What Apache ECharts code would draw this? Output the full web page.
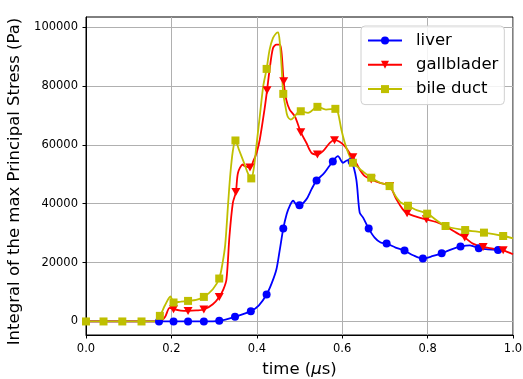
<!DOCTYPE html>
<html>
<head>
<meta charset="utf-8">
<script src="https://cdn.jsdelivr.net/npm/echarts@6/dist/echarts.min.js"></script>
<style>
html,body{margin:0;padding:0;background:#fff;}
#chart{width:523px;height:379px;}
</style>
</head>
<body>
<div id="chart"></div>
<script>
// ---- data ----
const seriesNames = ['liver', 'gallblader', 'bile duct'];
const xTicks = [0, 0.2, 0.4, 0.6, 0.8, 1.0];
const yTicks = [0, 20000, 40000, 60000, 80000, 100000];

const liverTime = [0,0.041,0.085,0.130,0.171,0.205,0.239,0.276,0.312,0.349,0.386,0.405,0.423,0.435,0.446,0.454,0.462,0.470,0.477,0.485,0.493,0.500,0.516,0.528,0.540,0.555,0.567,0.578,0.590,0.602,0.613,0.622,0.633,0.641,0.649,0.662,0.676,0.690,0.704,0.725,0.746,0.766,0.789,0.813,0.833,0.856,0.877,0.899,0.920,0.941,0.965,0.973];
const liverValue = [0,0,0,0,0,0,0,0,200,1560,3490,5500,9150,13000,17730,24500,31530,36500,39190,41000,39600,39430,41460,44850,47900,49930,52200,54340,56140,53900,54780,54340,48240,36950,35260,31530,28480,26800,26440,25090,24070,22480,21360,22240,23150,24510,25420,25870,24850,24510,24270,23930];
const liverMarkers = [0.171,0.205,0.239,0.276,0.312,0.349,0.386,0.423,0.462,0.500,0.540,0.578,0.622,0.662,0.704,0.746,0.789,0.833,0.877,0.920,0.965];

const gallTime = [0,0.041,0.085,0.130,0.173,0.185,0.196,0.205,0.222,0.239,0.258,0.276,0.297,0.312,0.322,0.329,0.336,0.344,0.351,0.356,0.367,0.372,0.384,0.392,0.400,0.407,0.418,0.424,0.430,0.438,0.446,0.454,0.458,0.463,0.469,0.477,0.489,0.503,0.516,0.528,0.542,0.555,0.571,0.582,0.594,0.606,0.617,0.625,0.641,0.653,0.668,0.687,0.711,0.727,0.742,0.752,0.775,0.797,0.820,0.844,0.867,0.887,0.906,0.930,0.953,0.977,1.0];
const gallValue = [0,0,0,0,0,1500,4600,4170,3700,3590,3750,4070,5860,8340,11000,14340,29020,40340,43930,50500,53300,52750,52300,54500,57500,61800,71970,78500,85530,92890,94000,94000,91190,81560,75360,71970,69700,64270,60680,57290,56700,57830,60680,61560,61020,59530,57290,55800,51630,49360,48240,47120,45970,41460,38070,36780,35500,34680,33770,32200,30170,28480,26440,25290,24750,24170,22810];
const gallMarkers = [0.205,0.239,0.276,0.312,0.351,0.384,0.424,0.463,0.503,0.542,0.582,0.625,0.668,0.711,0.752,0.797,0.887,0.930,0.977];

const bileTime = [0,0.041,0.085,0.130,0.160,0.173,0.185,0.198,0.205,0.222,0.239,0.258,0.276,0.297,0.312,0.320,0.326,0.333,0.338,0.344,0.350,0.358,0.370,0.380,0.387,0.393,0.399,0.407,0.415,0.423,0.430,0.438,0.446,0.450,0.454,0.458,0.462,0.467,0.472,0.480,0.488,0.495,0.503,0.520,0.542,0.562,0.584,0.590,0.598,0.606,0.614,0.625,0.636,0.648,0.668,0.689,0.711,0.725,0.738,0.754,0.776,0.799,0.842,0.888,0.932,0.977,1.0];
const bileValue = [0,0,0,0,0,1900,5500,8470,6440,6700,6980,7300,8340,10950,14580,20000,26000,40340,50000,58000,61460,58410,53900,50000,48580,52000,59530,69700,79870,85770,92300,96280,97970,98180,94580,86650,77290,73090,69700,68580,69490,70850,71390,70850,72890,71970,72210,71000,65190,60680,57290,53900,52500,51000,48820,47120,45970,42580,40300,39300,37700,36610,32410,31050,30170,29020,28240];
const bileMarkers = [0,0.041,0.085,0.130,0.173,0.205,0.239,0.276,0.312,0.350,0.387,0.423,0.462,0.503,0.542,0.584,0.625,0.668,0.711,0.754,0.799,0.842,0.888,0.932,0.977];

// ---- build ----
function build(T, V, M) {
  const ms = new Set(M);
  return T.map((t, i) => ms.has(t) ? [t, V[i]] : { value: [t, V[i]], symbol: 'none' });
}
const FONT = 'DejaVu Sans';
const chart = echarts.init(document.getElementById('chart'), null, { renderer: 'canvas' });
const lineW = 1.8;
const option = {
  animation: false,
  backgroundColor: '#fff',
  grid: { left: 86, top: 17, width: 427, height: 318, containLabel: false, outerBoundsMode: 'none', show: true, borderColor: '#000', borderWidth: 1, backgroundColor: 'transparent' },
  legend: {
    orient: 'vertical', left: 361, top: 26,
    data: seriesNames,
    itemWidth: 34, itemHeight: 10, itemGap: 7.3,
    padding: [6, 6, 7, 6],
    backgroundColor: 'rgba(255,255,255,0.85)',
    borderColor: '#d0d0d0', borderWidth: 1, borderRadius: 4,
    textStyle: { fontFamily: FONT, fontSize: 16.5, color: '#000', lineHeight: 17, padding: [0, 0, 0, 9] }
  },
  xAxis: {
    type: 'value', min: 0, max: 1, interval: 0.2,
    name: 'time ({i|μ}s)', nameLocation: 'middle', nameGap: 26,
    nameTextStyle: { fontFamily: FONT, fontSize: 16.5, color: '#000', rich: { i: { fontFamily: FONT, fontSize: 16.5, fontStyle: 'italic', color: '#000' } } },
    axisLine: { show: true, onZero: false, lineStyle: { color: '#000', width: 1 } },
    axisTick: { show: true, length: 3.5, lineStyle: { color: '#000' } },
    axisLabel: { fontFamily: FONT, fontSize: 11.5, color: '#000', margin: 8, formatter: v => v.toFixed(1), customValues: xTicks },
    splitLine: { show: true, lineStyle: { color: '#b0b0b0', width: 1 } }
  },
  yAxis: {
    type: 'value', min: -4600, max: 103400,
    name: 'Integral of the max Principal Stress (Pa)', nameLocation: 'middle', nameGap: 55,
    nameTextStyle: { fontFamily: FONT, fontSize: 16.5, color: '#000', padding: [0, 11, 0, 0] },
    axisLine: { show: true, onZero: false, lineStyle: { color: '#000', width: 1 } },
    axisTick: { show: true, length: 3.5, lineStyle: { color: '#000' }, customValues: yTicks },
    axisLabel: { fontFamily: FONT, fontSize: 11.5, color: '#000', margin: 8, customValues: yTicks, formatter: v => String(v) },
    splitLine: { show: true, lineStyle: { color: '#b0b0b0', width: 1 } }
  },
  series: [
    { name: seriesNames[0], type: 'line', data: build(liverTime, liverValue, liverMarkers),
      color: '#0000ff', smooth: 0.3, symbol: 'circle', symbolSize: 8, showSymbol: true, showAllSymbol: true,
      lineStyle: { width: lineW, color: '#0000ff' }, itemStyle: { color: '#0000ff' } },
    { name: seriesNames[1], type: 'line', data: build(gallTime, gallValue, gallMarkers),
      color: '#ff0000', smooth: 0.3, symbol: 'triangle', symbolRotate: 180, symbolSize: [9, 8], showSymbol: true, showAllSymbol: true,
      lineStyle: { width: lineW, color: '#ff0000' }, itemStyle: { color: '#ff0000' } },
    { name: seriesNames[2], type: 'line', data: build(bileTime, bileValue, bileMarkers),
      color: '#bfbf00', smooth: 0.3, symbol: 'rect', symbolSize: 8, showSymbol: true, showAllSymbol: true,
      lineStyle: { width: lineW, color: '#bfbf00' }, itemStyle: { color: '#bfbf00' } }
  ]
};
chart.setOption(option);
</script>
</body>
</html>
